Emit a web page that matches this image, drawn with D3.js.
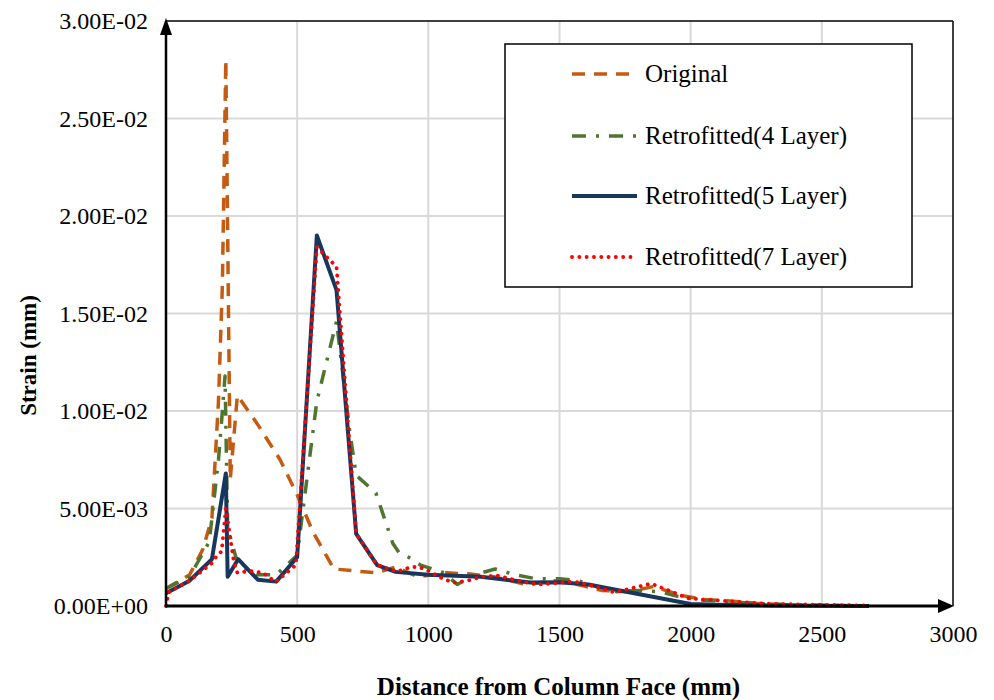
<!DOCTYPE html>
<html>
<head>
<meta charset="utf-8">
<script src="https://cdn.jsdelivr.net/npm/d3@7/dist/d3.min.js"></script>
<style>
  html, body { margin: 0; padding: 0; background: #fff; }
  svg { display: block; }
  text { font-family: "Times New Roman", "Liberation Serif", "DejaVu Serif", serif; fill: #000; }
</style>
</head>
<body>
<svg id="chart" width="994" height="700"></svg>
<script>
// ---------- data ----------
const xTicks = [0, 500, 1000, 1500, 2000, 2500, 3000];
const xTickLabels = ["0", "500", "1000", "1500", "2000", "2500", "3000"];
const yTicks = [0, 0.005, 0.01, 0.015, 0.02, 0.025, 0.03];
const yTickLabels = ["0.00E+00", "5.00E-03", "1.00E-02", "1.50E-02", "2.00E-02", "2.50E-02", "3.00E-02"];

const seriesNames = ["Original", "Retrofitted(4 Layer)", "Retrofitted(5 Layer)", "Retrofitted(7 Layer)"];

const originalDist = [0, 90, 140, 175, 200, 215, 228, 245, 272, 350, 435, 500, 560, 640, 720, 800, 875, 960, 1070, 1160, 1250, 1375, 1480, 1570, 1660, 1760, 1860, 1960, 2050, 2150, 2250, 2400, 2680];
const originalStrain = [0.0009, 0.0016, 0.0029, 0.0045, 0.0105, 0.0165, 0.0280, 0.0065, 0.0108, 0.0093, 0.0075, 0.0057, 0.0038, 0.0019, 0.0018, 0.0017, 0.0020, 0.0015, 0.0017, 0.00164, 0.0015, 0.0011, 0.0013, 0.0011, 0.0008, 0.00073, 0.0010, 0.00055, 0.00034, 0.00026, 0.00014, 0.00005, 0.0];

const layer4Dist = [0, 90, 165, 200, 212, 225, 235, 275, 350, 420, 500, 575, 650, 700, 725, 800, 865, 890, 925, 970, 1060, 1110, 1175, 1255, 1330, 1410, 1500, 1570, 1640, 1720, 1800, 1880, 1950, 2050, 2150, 2250, 2400, 2680];
const layer4Strain = [0.0009, 0.0015, 0.0033, 0.0075, 0.0095, 0.0118, 0.0040, 0.0021, 0.0016, 0.0016, 0.0026, 0.0105, 0.0146, 0.0090, 0.0067, 0.0058, 0.0032, 0.0027, 0.0025, 0.0021, 0.0017, 0.0011, 0.0016, 0.0019, 0.0016, 0.0014, 0.0014, 0.0013, 0.0010, 0.00073, 0.0008, 0.00073, 0.0005, 0.0003, 0.00022, 0.00012, 0.00005, 0.0];

const layer5Dist = [0, 90, 175, 228, 235, 275, 350, 420, 500, 575, 650, 725, 805, 875, 1000, 1200, 1390, 1500, 1610, 2000, 2100, 2300, 2680];
const layer5Strain = [0.00065, 0.0013, 0.0024, 0.0068, 0.0015, 0.0024, 0.00135, 0.00125, 0.0025, 0.0190, 0.0162, 0.0037, 0.0021, 0.00175, 0.0016, 0.0015, 0.0012, 0.00122, 0.0011, 0.0001, 0.00006, 0.00003, 0.0];

const layer7Dist = [0, 10, 90, 175, 195, 212, 228, 244, 258, 272, 320, 370, 418, 495, 575, 650, 725, 805, 880, 935, 965, 1000, 1040, 1094, 1150, 1205, 1262, 1320, 1375, 1420, 1550, 1580, 1710, 1850, 1990, 2050, 2150, 2250, 2330, 2660];
const layer7Strain = [0.0, 0.0007, 0.0013, 0.0022, 0.0026, 0.0028, 0.0050, 0.0036, 0.0023, 0.0017, 0.0018, 0.0017, 0.00123, 0.0021, 0.0184, 0.0174, 0.0037, 0.0021, 0.00176, 0.0020, 0.0020, 0.0018, 0.0015, 0.0012, 0.0013, 0.0015, 0.00156, 0.00137, 0.0012, 0.0011, 0.00125, 0.0012, 0.0007, 0.00115, 0.0004, 0.00033, 0.00025, 0.00015, 0.0001, 0.00003];

// ---------- build ----------
const series = [
  { name: seriesNames[0], dist: originalDist, strain: originalStrain, color: "#C55A11", width: 3.5, dash: "13,9", cap: "butt" },
  { name: seriesNames[1], dist: layer4Dist, strain: layer4Strain, color: "#4F7530", width: 3.5, dash: "14,10,3,10", cap: "butt" },
  { name: seriesNames[2], dist: layer5Dist, strain: layer5Strain, color: "#17375E", width: 4, dash: null, cap: "butt" },
  { name: seriesNames[3], dist: layer7Dist, strain: layer7Strain, color: "#FF0000", width: 3.8, dash: "0.1,7.2", cap: "round" }
];

const svg = d3.select("#chart");
const L = 166, R = 953, T = 21, B = 606;
const x = d3.scaleLinear().domain([0, 3000]).range([L, R]);
const y = d3.scaleLinear().domain([0, 0.03]).range([B, T]);

// gridlines
svg.append("g").selectAll("line.vg")
  .data(xTicks.filter(d => d > 0 && d < 3000)).join("line")
  .attr("x1", d => x(d)).attr("x2", d => x(d))
  .attr("y1", T).attr("y2", B)
  .attr("stroke", "#d9d9d9").attr("stroke-width", 2);
svg.append("g").selectAll("line.hg")
  .data(yTicks.filter(d => d > 0 && d < 0.03)).join("line")
  .attr("x1", L).attr("x2", R)
  .attr("y1", d => y(d)).attr("y2", d => y(d))
  .attr("stroke", "#d9d9d9").attr("stroke-width", 2);

// plot border top / right
svg.append("line").attr("x1", L).attr("x2", R).attr("y1", T).attr("y2", T)
  .attr("stroke", "#000").attr("stroke-width", 1.5);
svg.append("line").attr("x1", R).attr("x2", R).attr("y1", T).attr("y2", B)
  .attr("stroke", "#000").attr("stroke-width", 1.5);

// series lines
const line = d3.line().x(d => x(d[0])).y(d => y(d[1]));
series.forEach(s => {
  const pts = s.dist.map((d, i) => [d, s.strain[i]]);
  const p = svg.append("path").datum(pts)
    .attr("d", line)
    .attr("fill", "none")
    .attr("stroke", s.color)
    .attr("stroke-width", s.width)
    .attr("stroke-linejoin", "round")
    .attr("stroke-linecap", s.cap);
  if (s.dash) p.attr("stroke-dasharray", s.dash);
});

// axes (labels via d3 axes, no ticks)
const xAxis = d3.axisBottom(x).tickValues(xTicks).tickSize(0).tickPadding(19)
  .tickFormat((d, i) => xTickLabels[i]);
const gx = svg.append("g").attr("transform", `translate(0,${B})`).call(xAxis);
gx.select(".domain").remove();
gx.selectAll("text").attr("font-size", 24).attr("font-family", "'Times New Roman','Liberation Serif',serif").attr("fill", "#000");

const yAxis = d3.axisLeft(y).tickValues(yTicks).tickSize(0).tickPadding(18)
  .tickFormat((d, i) => yTickLabels[i]);
const gy = svg.append("g").attr("transform", `translate(${L},0)`).call(yAxis);
gy.select(".domain").remove();
gy.selectAll("text").attr("font-size", 24).attr("font-family", "'Times New Roman','Liberation Serif',serif").attr("fill", "#000");

// axis lines with arrows
svg.append("line").attr("x1", L).attr("x2", L).attr("y1", B + 1).attr("y2", T + 12)
  .attr("stroke", "#000").attr("stroke-width", 2.5);
svg.append("path").attr("d", `M${L},${T - 3} L${L - 6},${T + 14} L${L + 6},${T + 14} Z`).attr("fill", "#000");
svg.append("line").attr("x1", L - 1).attr("x2", R - 12).attr("y1", B).attr("y2", B)
  .attr("stroke", "#000").attr("stroke-width", 3);
svg.append("path").attr("d", `M${R + 1},${B} L${R - 15},${B - 7} L${R - 15},${B + 7} Z`).attr("fill", "#000");

// axis titles
svg.append("text").attr("x", (L + R) / 2 - 1).attr("y", 695)
  .attr("text-anchor", "middle").attr("font-size", 25).attr("font-weight", "bold")
  .text("Distance from Column Face (mm)");
svg.append("text").attr("transform", `translate(36,${(T + B) / 2 + 42}) rotate(-90)`)
  .attr("text-anchor", "middle").attr("font-size", 23).attr("font-weight", "bold")
  .text("Strain (mm)");

// legend
const lg = svg.append("g");
lg.append("rect").attr("x", 505).attr("y", 44).attr("width", 407).attr("height", 243)
  .attr("fill", "#fff").attr("stroke", "#000").attr("stroke-width", 1.5);
const rowsY = [74, 136, 196, 257];
series.forEach((s, i) => {
  const l = lg.append("line").attr("x1", 572).attr("x2", 637)
    .attr("y1", rowsY[i]).attr("y2", rowsY[i])
    .attr("stroke", s.color).attr("stroke-width", s.width)
    .attr("stroke-linecap", s.cap);
  if (s.dash) l.attr("stroke-dasharray", s.dash);
  lg.append("text").attr("x", 645).attr("y", rowsY[i] + 8)
    .attr("font-size", 25).text(s.name);
});
</script>
</body>
</html>
